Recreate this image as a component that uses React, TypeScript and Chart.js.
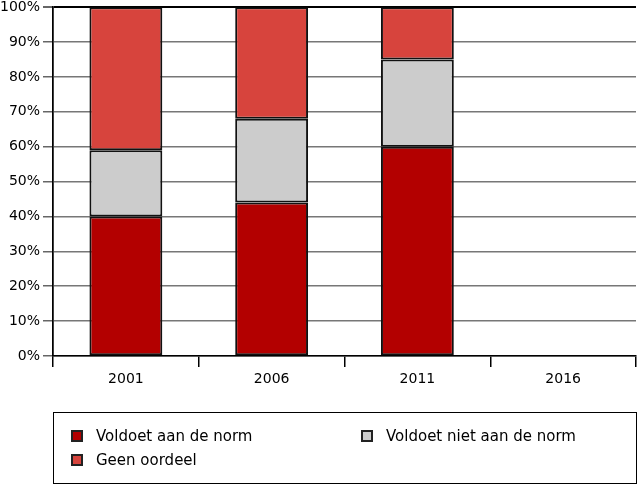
import React, { useEffect, useRef } from "react";
import { Chart, registerables } from "chart.js";

Chart.register(...registerables);

const categories = ["2001", "2006", "2011", "2016"];
const voldoet = [40, 44, 60, null];
const voldoetNiet = [19, 24, 25, null];
const geenOordeel = [41, 32, 15, null];
const seriesNames = ["Voldoet aan de norm", "Voldoet niet aan de norm", "Geen oordeel"];
const seriesColors = ["#b30000", "#cccccc", "#d7443d"];

const FONT = "'DejaVu Sans', sans-serif";

export default function App() {
  const ref = useRef<HTMLCanvasElement | null>(null);
  useEffect(() => {
    if (!ref.current) return;
    const chart = new Chart(ref.current, {
      type: "bar",
      data: {
        labels: categories,
        datasets: [
          { label: seriesNames[0], data: voldoet, backgroundColor: seriesColors[0] },
          { label: seriesNames[1], data: voldoetNiet, backgroundColor: seriesColors[1] },
          { label: seriesNames[2], data: geenOordeel, backgroundColor: seriesColors[2] },
        ].map((d) => ({
          ...d,
          borderColor: "#111",
          borderWidth: 2,
          borderSkipped: false,
          barPercentage: 0.5,
          categoryPercentage: 1,
        })) as any,
      },
      options: {
        responsive: false,
        animation: false,
        layout: { padding: { left: 0, right: 2, top: 7, bottom: 99 } },
        plugins: { legend: { display: false }, tooltip: { enabled: false } },
        scales: {
          x: {
            stacked: true,
            offset: true,
            afterFit: (s: any) => { s.height = 30; },
            grid: {
              offset: true,
              drawOnChartArea: true,
              color: (ctx: any) => (ctx.index === 0 || ctx.index === categories.length ? "#000" : "rgba(0,0,0,0)"),
              tickColor: "#000",
              tickLength: 11,
              lineWidth: 1.5,
            },
            border: { display: true, color: "#000", width: 1.5 },
            ticks: { color: "#000", font: { family: FONT, size: 14 }, padding: 4 },
          },
          y: {
            stacked: true,
            min: 0,
            max: 100,
            afterFit: (s: any) => { s.width = 53; },
            grid: {
              color: (ctx: any) => (ctx.tick && ctx.tick.value === 100 ? "#000" : "#777"),
              lineWidth: (ctx: any) => (ctx.tick && ctx.tick.value === 100 ? 2 : 1.5),
              tickColor: "#666",
              tickLength: 10,
            },
            border: { display: true, color: "#000", width: 1.5 },
            ticks: {
              stepSize: 10,
              color: "#000",
              font: { family: FONT, size: 14, lineHeight: 0.6 },
              padding: 3,
              callback: (v: any) => v + "%",
            },
          },
        },
      },
    });
    return () => chart.destroy();
  }, []);

  const item = (i: number, left: number, top: number) => (
    <div
      key={i}
      style={{ position: "absolute", left, top, display: "flex", alignItems: "center", height: 18 }}
    >
      <div
        style={{
          width: 12,
          height: 12,
          boxSizing: "border-box",
          border: "2px solid #222",
          background: seriesColors[i],
          marginRight: 13,
        }}
      />
      <span style={{ fontFamily: FONT, fontSize: 15, color: "#000", whiteSpace: "nowrap" }}>{seriesNames[i]}</span>
    </div>
  );

  return (
    <div style={{ position: "absolute", left: 0, top: 0, width: 638, height: 485, background: "#fff" }}>
      <canvas ref={ref} width={638} height={485} style={{ display: "block" }} />
      <div
        style={{
          position: "absolute",
          left: 53,
          top: 412,
          width: 584,
          height: 72,
          boxSizing: "border-box",
          border: "1.5px solid #000",
        }}
      />
      {item(0, 71, 427)}
      {item(1, 361, 427)}
      {item(2, 71, 451)}
    </div>
  );
}
